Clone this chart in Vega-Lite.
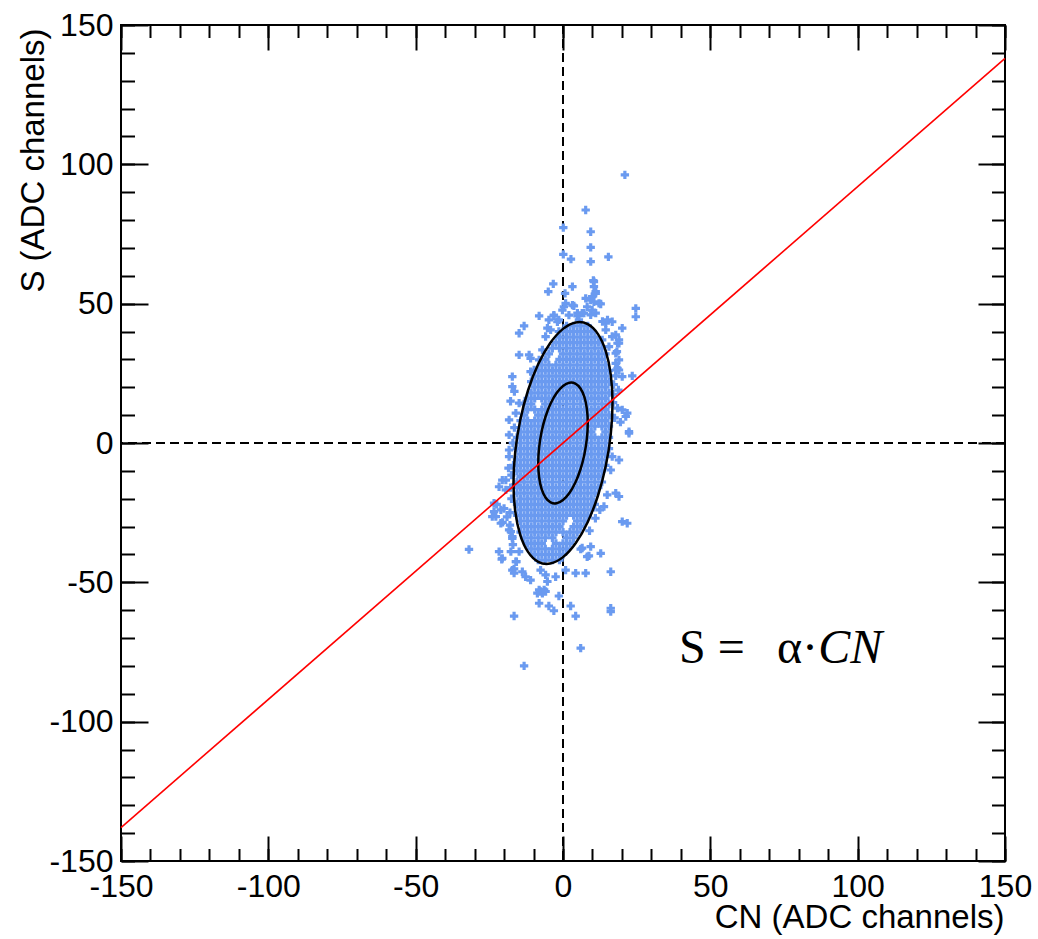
{
  "$schema": "https://vega.github.io/schema/vega-lite/v6.json",
  "width": 884,
  "height": 836,
  "autosize": {"type": "none"},
  "padding": {"left": 121, "top": 25, "right": 33, "bottom": 78},
  "background": "white",
  "config": {"view": {"stroke": "black", "strokeWidth": 2}, "font": "Liberation Sans"},
  "resolve": {"axis": {"x": "independent", "y": "independent"}},
  "datasets": {
    "scatter": [
      {"cn":1.2,"s":42},{"cn":3.6,"s":42},{"cn":6.0,"s":42},{"cn":8.4,"s":42},
      {"cn":0,"s":40},{"cn":2.4,"s":40},{"cn":4.8,"s":40},{"cn":7.2,"s":40},{"cn":9.6,"s":40},
      {"cn":-1.2,"s":38},{"cn":1.2,"s":38},{"cn":3.6,"s":38},{"cn":6.0,"s":38},{"cn":8.4,"s":38},{"cn":10.8,"s":38},
      {"cn":-2.4,"s":36},{"cn":0,"s":36},{"cn":2.4,"s":36},{"cn":4.8,"s":36},{"cn":7.2,"s":36},{"cn":9.6,"s":36},{"cn":12.0,"s":36},
      {"cn":-3.6,"s":34},{"cn":-1.2,"s":34},{"cn":1.2,"s":34},{"cn":3.6,"s":34},{"cn":6.0,"s":34},{"cn":8.4,"s":34},{"cn":10.8,"s":34},{"cn":13.2,"s":34},
      {"cn":-4.8,"s":32},{"cn":0,"s":32},{"cn":2.4,"s":32},{"cn":4.8,"s":32},{"cn":7.2,"s":32},{"cn":9.6,"s":32},{"cn":12.0,"s":32},{"cn":14.4,"s":32},
      {"cn":-6.0,"s":30},{"cn":-1.2,"s":30},{"cn":1.2,"s":30},{"cn":3.6,"s":30},{"cn":6.0,"s":30},{"cn":8.4,"s":30},{"cn":10.8,"s":30},{"cn":13.2,"s":30},
      {"cn":-7.2,"s":28},{"cn":-4.8,"s":28},{"cn":-2.4,"s":28},{"cn":0,"s":28},{"cn":2.4,"s":28},{"cn":4.8,"s":28},{"cn":7.2,"s":28},{"cn":9.6,"s":28},{"cn":12.0,"s":28},{"cn":14.4,"s":28},
      {"cn":-8.4,"s":26},{"cn":-6.0,"s":26},{"cn":-3.6,"s":26},{"cn":-1.2,"s":26},{"cn":1.2,"s":26},{"cn":3.6,"s":26},{"cn":6.0,"s":26},{"cn":8.4,"s":26},{"cn":10.8,"s":26},{"cn":13.2,"s":26},{"cn":15.6,"s":26},
      {"cn":-9.6,"s":24},{"cn":-7.2,"s":24},{"cn":-4.8,"s":24},{"cn":-2.4,"s":24},{"cn":0,"s":24},{"cn":2.4,"s":24},{"cn":4.8,"s":24},{"cn":7.2,"s":24},{"cn":9.6,"s":24},{"cn":12.0,"s":24},{"cn":14.4,"s":24},
      {"cn":-10.8,"s":22},{"cn":-8.4,"s":22},{"cn":-6.0,"s":22},{"cn":-3.6,"s":22},{"cn":-1.2,"s":22},{"cn":1.2,"s":22},{"cn":3.6,"s":22},{"cn":6.0,"s":22},{"cn":8.4,"s":22},{"cn":10.8,"s":22},{"cn":13.2,"s":22},{"cn":15.6,"s":22},
      {"cn":-9.6,"s":20},{"cn":-7.2,"s":20},{"cn":-4.8,"s":20},{"cn":-2.4,"s":20},{"cn":0,"s":20},{"cn":2.4,"s":20},{"cn":4.8,"s":20},{"cn":7.2,"s":20},{"cn":9.6,"s":20},{"cn":12.0,"s":20},{"cn":14.4,"s":20},
      {"cn":-10.8,"s":18},{"cn":-8.4,"s":18},{"cn":-6.0,"s":18},{"cn":-3.6,"s":18},{"cn":-1.2,"s":18},{"cn":1.2,"s":18},{"cn":3.6,"s":18},{"cn":6.0,"s":18},{"cn":8.4,"s":18},{"cn":10.8,"s":18},{"cn":13.2,"s":18},{"cn":15.6,"s":18},
      {"cn":-12.0,"s":16},{"cn":-9.6,"s":16},{"cn":-7.2,"s":16},{"cn":-4.8,"s":16},{"cn":-2.4,"s":16},{"cn":0,"s":16},{"cn":2.4,"s":16},{"cn":4.8,"s":16},{"cn":7.2,"s":16},{"cn":9.6,"s":16},{"cn":12.0,"s":16},{"cn":14.4,"s":16},
      {"cn":-13.2,"s":14},{"cn":-10.8,"s":14},{"cn":-6.0,"s":14},{"cn":-3.6,"s":14},{"cn":-1.2,"s":14},{"cn":1.2,"s":14},{"cn":3.6,"s":14},{"cn":6.0,"s":14},{"cn":8.4,"s":14},{"cn":10.8,"s":14},{"cn":13.2,"s":14},{"cn":15.6,"s":14},
      {"cn":-12.0,"s":12},{"cn":-9.6,"s":12},{"cn":-7.2,"s":12},{"cn":-4.8,"s":12},{"cn":-2.4,"s":12},{"cn":0,"s":12},{"cn":2.4,"s":12},{"cn":4.8,"s":12},{"cn":7.2,"s":12},{"cn":9.6,"s":12},{"cn":12.0,"s":12},{"cn":14.4,"s":12},
      {"cn":-13.2,"s":10},{"cn":-8.4,"s":10},{"cn":-6.0,"s":10},{"cn":-3.6,"s":10},{"cn":-1.2,"s":10},{"cn":1.2,"s":10},{"cn":3.6,"s":10},{"cn":6.0,"s":10},{"cn":8.4,"s":10},{"cn":10.8,"s":10},{"cn":13.2,"s":10},{"cn":15.6,"s":10},
      {"cn":-14.4,"s":8},{"cn":-12.0,"s":8},{"cn":-9.6,"s":8},{"cn":-7.2,"s":8},{"cn":-4.8,"s":8},{"cn":-2.4,"s":8},{"cn":0,"s":8},{"cn":2.4,"s":8},{"cn":4.8,"s":8},{"cn":7.2,"s":8},{"cn":9.6,"s":8},{"cn":12.0,"s":8},{"cn":14.4,"s":8},
      {"cn":-13.2,"s":6},{"cn":-10.8,"s":6},{"cn":-8.4,"s":6},{"cn":-6.0,"s":6},{"cn":-3.6,"s":6},{"cn":-1.2,"s":6},{"cn":1.2,"s":6},{"cn":3.6,"s":6},{"cn":6.0,"s":6},{"cn":8.4,"s":6},{"cn":10.8,"s":6},{"cn":13.2,"s":6},{"cn":15.6,"s":6},
      {"cn":-14.4,"s":4},{"cn":-12.0,"s":4},{"cn":-9.6,"s":4},{"cn":-7.2,"s":4},{"cn":-4.8,"s":4},{"cn":-2.4,"s":4},{"cn":0,"s":4},{"cn":2.4,"s":4},{"cn":4.8,"s":4},{"cn":7.2,"s":4},{"cn":9.6,"s":4},{"cn":14.4,"s":4},
      {"cn":-15.6,"s":2},{"cn":-13.2,"s":2},{"cn":-10.8,"s":2},{"cn":-8.4,"s":2},{"cn":-6.0,"s":2},{"cn":-3.6,"s":2},{"cn":-1.2,"s":2},{"cn":1.2,"s":2},{"cn":3.6,"s":2},{"cn":6.0,"s":2},{"cn":8.4,"s":2},{"cn":10.8,"s":2},{"cn":13.2,"s":2},{"cn":15.6,"s":2},
      {"cn":-14.4,"s":0},{"cn":-12.0,"s":0},{"cn":-9.6,"s":0},{"cn":-7.2,"s":0},{"cn":-4.8,"s":0},{"cn":-2.4,"s":0},{"cn":0,"s":0},{"cn":2.4,"s":0},{"cn":4.8,"s":0},{"cn":7.2,"s":0},{"cn":9.6,"s":0},{"cn":12.0,"s":0},{"cn":14.4,"s":0},
      {"cn":-15.6,"s":-2},{"cn":-13.2,"s":-2},{"cn":-10.8,"s":-2},{"cn":-8.4,"s":-2},{"cn":-6.0,"s":-2},{"cn":-3.6,"s":-2},{"cn":-1.2,"s":-2},{"cn":1.2,"s":-2},{"cn":3.6,"s":-2},{"cn":6.0,"s":-2},{"cn":8.4,"s":-2},{"cn":10.8,"s":-2},{"cn":13.2,"s":-2},{"cn":15.6,"s":-2},
      {"cn":-14.4,"s":-4},{"cn":-12.0,"s":-4},{"cn":-9.6,"s":-4},{"cn":-7.2,"s":-4},{"cn":-4.8,"s":-4},{"cn":-2.4,"s":-4},{"cn":0,"s":-4},{"cn":2.4,"s":-4},{"cn":4.8,"s":-4},{"cn":7.2,"s":-4},{"cn":9.6,"s":-4},{"cn":12.0,"s":-4},{"cn":14.4,"s":-4},
      {"cn":-15.6,"s":-6},{"cn":-13.2,"s":-6},{"cn":-10.8,"s":-6},{"cn":-8.4,"s":-6},{"cn":-6.0,"s":-6},{"cn":-3.6,"s":-6},{"cn":-1.2,"s":-6},{"cn":1.2,"s":-6},{"cn":3.6,"s":-6},{"cn":6.0,"s":-6},{"cn":8.4,"s":-6},{"cn":10.8,"s":-6},{"cn":13.2,"s":-6},
      {"cn":-14.4,"s":-8},{"cn":-12.0,"s":-8},{"cn":-9.6,"s":-8},{"cn":-7.2,"s":-8},{"cn":-4.8,"s":-8},{"cn":-2.4,"s":-8},{"cn":0,"s":-8},{"cn":2.4,"s":-8},{"cn":4.8,"s":-8},{"cn":7.2,"s":-8},{"cn":9.6,"s":-8},{"cn":12.0,"s":-8},{"cn":14.4,"s":-8},
      {"cn":-15.6,"s":-10},{"cn":-13.2,"s":-10},{"cn":-10.8,"s":-10},{"cn":-8.4,"s":-10},{"cn":-6.0,"s":-10},{"cn":-3.6,"s":-10},{"cn":-1.2,"s":-10},{"cn":1.2,"s":-10},{"cn":3.6,"s":-10},{"cn":6.0,"s":-10},{"cn":8.4,"s":-10},{"cn":10.8,"s":-10},{"cn":13.2,"s":-10},
      {"cn":-14.4,"s":-12},{"cn":-12.0,"s":-12},{"cn":-9.6,"s":-12},{"cn":-7.2,"s":-12},{"cn":-4.8,"s":-12},{"cn":-2.4,"s":-12},{"cn":0,"s":-12},{"cn":2.4,"s":-12},{"cn":4.8,"s":-12},{"cn":7.2,"s":-12},{"cn":9.6,"s":-12},{"cn":12.0,"s":-12},
      {"cn":-15.6,"s":-14},{"cn":-13.2,"s":-14},{"cn":-10.8,"s":-14},{"cn":-8.4,"s":-14},{"cn":-6.0,"s":-14},{"cn":-3.6,"s":-14},{"cn":-1.2,"s":-14},{"cn":1.2,"s":-14},{"cn":3.6,"s":-14},{"cn":6.0,"s":-14},{"cn":8.4,"s":-14},{"cn":10.8,"s":-14},{"cn":13.2,"s":-14},
      {"cn":-14.4,"s":-16},{"cn":-12.0,"s":-16},{"cn":-9.6,"s":-16},{"cn":-7.2,"s":-16},{"cn":-4.8,"s":-16},{"cn":-2.4,"s":-16},{"cn":0,"s":-16},{"cn":2.4,"s":-16},{"cn":4.8,"s":-16},{"cn":7.2,"s":-16},{"cn":9.6,"s":-16},{"cn":12.0,"s":-16},
      {"cn":-15.6,"s":-18},{"cn":-13.2,"s":-18},{"cn":-10.8,"s":-18},{"cn":-8.4,"s":-18},{"cn":-6.0,"s":-18},{"cn":-3.6,"s":-18},{"cn":-1.2,"s":-18},{"cn":1.2,"s":-18},{"cn":3.6,"s":-18},{"cn":6.0,"s":-18},{"cn":8.4,"s":-18},{"cn":10.8,"s":-18},
      {"cn":-14.4,"s":-20},{"cn":-12.0,"s":-20},{"cn":-9.6,"s":-20},{"cn":-7.2,"s":-20},{"cn":-4.8,"s":-20},{"cn":-2.4,"s":-20},{"cn":0,"s":-20},{"cn":2.4,"s":-20},{"cn":4.8,"s":-20},{"cn":7.2,"s":-20},{"cn":9.6,"s":-20},
      {"cn":-15.6,"s":-22},{"cn":-13.2,"s":-22},{"cn":-10.8,"s":-22},{"cn":-8.4,"s":-22},{"cn":-6.0,"s":-22},{"cn":-3.6,"s":-22},{"cn":-1.2,"s":-22},{"cn":1.2,"s":-22},{"cn":3.6,"s":-22},{"cn":6.0,"s":-22},{"cn":8.4,"s":-22},{"cn":10.8,"s":-22},
      {"cn":-14.4,"s":-24},{"cn":-12.0,"s":-24},{"cn":-9.6,"s":-24},{"cn":-7.2,"s":-24},{"cn":-4.8,"s":-24},{"cn":-2.4,"s":-24},{"cn":0,"s":-24},{"cn":2.4,"s":-24},{"cn":4.8,"s":-24},{"cn":7.2,"s":-24},{"cn":9.6,"s":-24},
      {"cn":-15.6,"s":-26},{"cn":-13.2,"s":-26},{"cn":-10.8,"s":-26},{"cn":-8.4,"s":-26},{"cn":-6.0,"s":-26},{"cn":-3.6,"s":-26},{"cn":-1.2,"s":-26},{"cn":1.2,"s":-26},{"cn":3.6,"s":-26},{"cn":6.0,"s":-26},{"cn":8.4,"s":-26},
      {"cn":-14.4,"s":-28},{"cn":-12.0,"s":-28},{"cn":-9.6,"s":-28},{"cn":-7.2,"s":-28},{"cn":-4.8,"s":-28},{"cn":-2.4,"s":-28},{"cn":0,"s":-28},{"cn":4.8,"s":-28},{"cn":7.2,"s":-28},
      {"cn":-13.2,"s":-30},{"cn":-10.8,"s":-30},{"cn":-8.4,"s":-30},{"cn":-6.0,"s":-30},{"cn":-3.6,"s":-30},{"cn":-1.2,"s":-30},{"cn":3.6,"s":-30},{"cn":6.0,"s":-30},
      {"cn":-14.4,"s":-32},{"cn":-12.0,"s":-32},{"cn":-9.6,"s":-32},{"cn":-7.2,"s":-32},{"cn":-4.8,"s":-32},{"cn":-2.4,"s":-32},{"cn":0,"s":-32},{"cn":2.4,"s":-32},{"cn":4.8,"s":-32},
      {"cn":-13.2,"s":-34},{"cn":-10.8,"s":-34},{"cn":-8.4,"s":-34},{"cn":-6.0,"s":-34},{"cn":-3.6,"s":-34},{"cn":1.2,"s":-34},{"cn":3.6,"s":-34},
      {"cn":-12.0,"s":-36},{"cn":-9.6,"s":-36},{"cn":-7.2,"s":-36},{"cn":-2.4,"s":-36},{"cn":0,"s":-36},{"cn":2.4,"s":-36},
      {"cn":-10.8,"s":-38},{"cn":-8.4,"s":-38},{"cn":-6.0,"s":-38},{"cn":-3.6,"s":-38},{"cn":-1.2,"s":-38},{"cn":1.2,"s":-38},
      {"cn":-9.6,"s":-40},{"cn":-7.2,"s":-40},{"cn":-4.8,"s":-40},{"cn":-2.4,"s":-40},{"cn":0,"s":-40},
      {"cn":-8.4,"s":-42},{"cn":-6.0,"s":-42},{"cn":-3.6,"s":-42},{"cn":-1.2,"s":-42},
      {"cn":21.0,"s":96.2},{"cn":7.7,"s":83.6},{"cn":0.1,"s":77.3},{"cn":9.4,"s":75.8},{"cn":9.4,"s":70.2},{"cn":0.1,"s":67.7},{"cn":2.7,"s":66.0},{"cn":9.4,"s":65.1},{"cn":15.4,"s":66.8},
      {"cn":10.3,"s":58.3},{"cn":-3.3,"s":57.1},{"cn":-5.0,"s":54.3},{"cn":0.7,"s":53.7},{"cn":3.2,"s":56.1},{"cn":10.5,"s":56.1},{"cn":11.1,"s":54.3},{"cn":9.9,"s":52.5},{"cn":7.7,"s":51.9},{"cn":9.4,"s":51.3},{"cn":12.8,"s":49.9},
      {"cn":24.7,"s":48.3},{"cn":24.7,"s":45.3},{"cn":0.3,"s":48.9},{"cn":3.7,"s":49.2},{"cn":-8.1,"s":45.6},{"cn":-3.1,"s":45.6},{"cn":-1.4,"s":44.2},{"cn":4.9,"s":45.6},{"cn":6.5,"s":46.6},{"cn":9.4,"s":46.0},
      {"cn":-13.2,"s":42.0},{"cn":-14.9,"s":39.4},{"cn":-5.3,"s":41.2},{"cn":20.1,"s":41.2},{"cn":14.5,"s":43.0},{"cn":16.7,"s":43.5},{"cn":-14.9,"s":31.6},{"cn":-11.5,"s":31.6},{"cn":-11.0,"s":30.4},{"cn":17.9,"s":38.8},{"cn":19.0,"s":35.8},
      {"cn":10.5,"s":57.9},{"cn":11.1,"s":53.7},{"cn":10.5,"s":50.7},{"cn":12.2,"s":50.1},{"cn":8.2,"s":48.9},{"cn":9.9,"s":47.7},{"cn":7.1,"s":46.6},{"cn":11.1,"s":46.6},{"cn":13.4,"s":43.6},{"cn":15.1,"s":44.2},
      {"cn":0.9,"s":50.1},{"cn":3.2,"s":49.5},{"cn":-0.2,"s":47.7},{"cn":2.0,"s":45.9},{"cn":4.9,"s":46.6},{"cn":5.4,"s":44.2},{"cn":-4.8,"s":44.2},{"cn":-3.1,"s":45.9},{"cn":-1.9,"s":43.5},{"cn":-4.2,"s":40.6},{"cn":-1.4,"s":40.0},
      {"cn":14.5,"s":40.6},{"cn":16.7,"s":38.2},{"cn":19.0,"s":37.0},{"cn":13.3,"s":37.0},{"cn":15.6,"s":34.6},{"cn":17.9,"s":32.2},{"cn":19.0,"s":29.8},{"cn":17.9,"s":26.2},
      {"cn":-5.9,"s":38.2},{"cn":-7.0,"s":33.4},{"cn":-8.1,"s":29.8},{"cn":-9.8,"s":26.2},{"cn":-11.0,"s":25.6},{"cn":18.5,"s":35.8},{"cn":18.3,"s":32.8},{"cn":18.5,"s":26.8},{"cn":17.9,"s":24.1},{"cn":23.5,"s":24.1},
      {"cn":-17.2,"s":20.2},{"cn":-18.3,"s":8.3},{"cn":-18.3,"s":2.9},{"cn":-18.3,"s":-4.9},{"cn":-19.4,"s":-13.3},{"cn":-14.9,"s":14.3},{"cn":-16.0,"s":10.7},{"cn":-17.2,"s":23.8},{"cn":-18.3,"s":-2.5},
      {"cn":-16.5,"s":18.5},{"cn":-17.8,"s":15.0},{"cn":-16.5,"s":5.5},{"cn":-17.0,"s":0.0},{"cn":-16.8,"s":-8.0},{"cn":-17.5,"s":-11.5},{"cn":-16.2,"s":-15.0},
      {"cn":20.1,"s":11.9},{"cn":21.3,"s":9.5},{"cn":22.4,"s":3.5},{"cn":16.2,"s":-9.7},{"cn":16.7,"s":-4.9},{"cn":21.8,"s":10.7},{"cn":22.4,"s":4.1},{"cn":19.0,"s":-6.1},{"cn":17.9,"s":28.6},{"cn":19.0,"s":26.2},{"cn":20.1,"s":23.8},
      {"cn":17.0,"s":14.5},{"cn":18.5,"s":12.5},{"cn":17.5,"s":9.0},{"cn":19.5,"s":7.5},{"cn":17.2,"s":21.0},{"cn":18.8,"s":19.0},{"cn":17.0,"s":17.5},
      {"cn":17.9,"s":-18.0},{"cn":19.0,"s":-19.2},{"cn":15.0,"s":-18.6},{"cn":13.9,"s":-22.8},{"cn":9.0,"s":-31.5},{"cn":11.0,"s":-27.0},{"cn":12.5,"s":-24.0},{"cn":10.5,"s":-22.0},
      {"cn":-31.9,"s":-38.2},{"cn":-21.7,"s":-39.0},{"cn":-20.6,"s":-41.4},{"cn":-17.7,"s":-39.0},{"cn":-14.9,"s":-39.0},{"cn":-16.0,"s":-42.6},{"cn":-17.2,"s":-45.6},{"cn":-13.8,"s":-46.2},{"cn":-12.7,"s":-48.0},{"cn":-11.0,"s":-49.2},
      {"cn":-7.6,"s":-45.6},{"cn":-5.9,"s":-47.3},{"cn":-5.3,"s":-49.7},{"cn":-2.5,"s":-48.0},{"cn":-8.1,"s":-52.7},{"cn":-7.0,"s":-53.9},{"cn":-6.4,"s":-52.7},{"cn":-1.4,"s":-54.9},{"cn":0.9,"s":-45.6},{"cn":4.3,"s":-46.7},{"cn":7.7,"s":-46.7},
      {"cn":6.5,"s":-37.7},{"cn":9.4,"s":-37.2},{"cn":8.2,"s":-40.8},{"cn":12.8,"s":-39.6},{"cn":16.2,"s":-46.2},{"cn":20.1,"s":-28.2},{"cn":21.8,"s":-28.8},{"cn":-24.0,"s":-26.4},{"cn":-23.4,"s":-24.6},{"cn":-21.1,"s":-28.8},{"cn":-17.7,"s":-31.8},{"cn":-17.2,"s":-34.2},
      {"cn":-16.6,"s":-62.1},{"cn":-13.2,"s":-80.0},{"cn":6.0,"s":-73.6},{"cn":16.2,"s":-60.5},{"cn":16.2,"s":-59.3},{"cn":4.3,"s":-62.1},{"cn":2.6,"s":-58.5},{"cn":-3.1,"s":-60.2},{"cn":-4.8,"s":-58.5},{"cn":-8.1,"s":-57.5},
      {"cn":-7.6,"s":-53.3},{"cn":-5.9,"s":-53.3},{"cn":-8.7,"s":-53.9},{"cn":6.0,"s":-38.1},{"cn":8.8,"s":-40.5},{"cn":-20.8,"s":-41.7},{"cn":-15.8,"s":-42.6},{"cn":-16.6,"s":-45.2},{"cn":-16.6,"s":-46.7},
      {"cn":-20.6,"s":-13.3},{"cn":-21.7,"s":-15.7},{"cn":-19.4,"s":-16.8},{"cn":-23.4,"s":-21.6},{"cn":-21.1,"s":-24.0},{"cn":-22.8,"s":-26.4},{"cn":-18.3,"s":-31.2},{"cn":-17.2,"s":-33.6},
      {"cn":-22.5,"s":-22.0},{"cn":-20.0,"s":-23.5},{"cn":-18.0,"s":-25.0},{"cn":-20.5,"s":-28.5},{"cn":-18.0,"s":-29.5},{"cn":-19.0,"s":-26.5},{"cn":-17.5,"s":-20.0},{"cn":-17.8,"s":-16.0},{"cn":-18.5,"s":-9.0},{"cn":-17.0,"s":-36.5}
    ],
    "contour": [
      {"level":"1","t":0,"cn":8.40,"s":7.16},{"level":"1","t":15,"cn":8.11,"s":12.22},{"level":"1","t":30,"cn":7.27,"s":16.44},{"level":"1","t":45,"cn":5.94,"s":19.54},
      {"level":"1","t":60,"cn":4.20,"s":21.32},{"level":"1","t":75,"cn":2.17,"s":21.63},{"level":"1","t":90,"cn":0.0,"s":20.48},{"level":"1","t":105,"cn":-2.17,"s":17.93},
      {"level":"1","t":120,"cn":-4.20,"s":14.16},{"level":"1","t":135,"cn":-5.94,"s":9.42},{"level":"1","t":150,"cn":-7.27,"s":4.04},{"level":"1","t":165,"cn":-8.11,"s":-1.62},
      {"level":"1","t":180,"cn":-8.40,"s":-7.16},{"level":"1","t":195,"cn":-8.11,"s":-12.22},{"level":"1","t":210,"cn":-7.27,"s":-16.44},{"level":"1","t":225,"cn":-5.94,"s":-19.54},
      {"level":"1","t":240,"cn":-4.20,"s":-21.32},{"level":"1","t":255,"cn":-2.17,"s":-21.63},{"level":"1","t":270,"cn":0.0,"s":-20.48},{"level":"1","t":285,"cn":2.17,"s":-17.93},
      {"level":"1","t":300,"cn":4.20,"s":-14.16},{"level":"1","t":315,"cn":5.94,"s":-9.42},{"level":"1","t":330,"cn":7.27,"s":-4.04},{"level":"1","t":345,"cn":8.11,"s":1.62},
      {"level":"2","t":0,"cn":16.80,"s":14.32},{"level":"2","t":15,"cn":16.22,"s":24.44},{"level":"2","t":30,"cn":14.54,"s":32.88},{"level":"2","t":45,"cn":11.88,"s":39.08},
      {"level":"2","t":60,"cn":8.40,"s":42.64},{"level":"2","t":75,"cn":4.34,"s":43.26},{"level":"2","t":90,"cn":0.0,"s":40.96},{"level":"2","t":105,"cn":-4.34,"s":35.86},
      {"level":"2","t":120,"cn":-8.40,"s":28.32},{"level":"2","t":135,"cn":-11.88,"s":18.84},{"level":"2","t":150,"cn":-14.54,"s":8.08},{"level":"2","t":165,"cn":-16.22,"s":-3.24},
      {"level":"2","t":180,"cn":-16.80,"s":-14.32},{"level":"2","t":195,"cn":-16.22,"s":-24.44},{"level":"2","t":210,"cn":-14.54,"s":-32.88},{"level":"2","t":225,"cn":-11.88,"s":-39.08},
      {"level":"2","t":240,"cn":-8.40,"s":-42.64},{"level":"2","t":255,"cn":-4.34,"s":-43.26},{"level":"2","t":270,"cn":0.0,"s":-40.96},{"level":"2","t":285,"cn":4.34,"s":-35.86},
      {"level":"2","t":300,"cn":8.40,"s":-28.32},{"level":"2","t":315,"cn":11.88,"s":-18.84},{"level":"2","t":330,"cn":14.54,"s":-8.08},{"level":"2","t":345,"cn":16.22,"s":3.24}
    ]
  },
  "layer": [
    {
      "data": {"values": [{"cn": 0}]},
      "mark": {"type": "rule", "color": "black", "strokeWidth": 2, "strokeDash": [9, 5]},
      "encoding": {"x": {"field": "cn", "type": "quantitative", "scale": {"domain": [-150, 150], "nice": false, "zero": false},
        "axis": {"orient": "bottom", "values": [-150,-140,-130,-120,-110,-100,-90,-80,-70,-60,-50,-40,-30,-20,-10,0,10,20,30,40,50,60,70,80,90,100,110,120,130,140,150],
          "labels": false, "title": null, "tickSize": -12.5, "tickWidth": 2, "tickColor": "black", "domain": false, "grid": false}}}
    },
    {
      "data": {"values": [{"s": 0}]},
      "mark": {"type": "rule", "color": "black", "strokeWidth": 2, "strokeDash": [9, 5]},
      "encoding": {"y": {"field": "s", "type": "quantitative", "scale": {"domain": [-150, 150], "nice": false, "zero": false},
        "axis": {"orient": "left", "values": [-150,-140,-130,-120,-110,-100,-90,-80,-70,-60,-50,-40,-30,-20,-10,0,10,20,30,40,50,60,70,80,90,100,110,120,130,140,150],
          "labels": false, "title": null, "tickSize": -13.5, "tickWidth": 2, "tickColor": "black", "domain": false, "grid": false}}}
    },
    {
      "data": {"name": "scatter"},
      "mark": {"type": "point", "shape": "M-1,-0.38H-0.38V-1H0.38V-0.38H1V0.38H0.38V1H-0.38V0.38H-1Z", "filled": true, "size": 70, "color": "#6a9af0", "opacity": 1, "strokeWidth": 0},
      "encoding": {
        "x": {"field": "cn", "type": "quantitative", "scale": {"domain": [-150, 150], "nice": false, "zero": false},
          "axis": {"orient": "bottom", "values": [-150,-100,-50,0,50,100,150],
            "labelExpr": "'' + datum.value", "tickSize": -25, "tickWidth": 2, "tickColor": "black", "domain": false, "grid": false,
            "labelFont": "Liberation Sans", "labelFontSize": 32, "labelColor": "black", "labelPadding": 35, "labelFlush": false, "labelOverlap": false,
            "title": "CN (ADC channels)", "titleFont": "Liberation Sans", "titleFontSize": 33, "titleFontWeight": "normal", "titleColor": "black",
            "titleAlign": "right", "titleBaseline": "alphabetic", "titleX": 883, "titleY": 66}},
        "y": {"field": "s", "type": "quantitative", "scale": {"domain": [-150, 150], "nice": false, "zero": false},
          "axis": {"orient": "left", "values": [-150,-100,-50,0,50,100,150],
            "labelExpr": "'' + datum.value", "tickSize": -27, "tickWidth": 2, "tickColor": "black", "domain": false, "grid": false,
            "labelFont": "Liberation Sans", "labelFontSize": 32, "labelColor": "black", "labelPadding": 35, "labelFlush": false, "labelOverlap": false,
            "title": "S (ADC channels)", "titleFont": "Liberation Sans", "titleFontSize": 33, "titleFontWeight": "normal", "titleColor": "black",
            "titleAngle": 270, "titleAlign": "right", "titleBaseline": "alphabetic", "titleX": -78, "titleY": 3}}
      }
    },
    {
      "data": {"name": "contour"},
      "mark": {"type": "line", "interpolate": "cardinal-closed", "color": "black", "strokeWidth": 2.5},
      "encoding": {
        "x": {"field": "cn", "type": "quantitative", "scale": {"domain": [-150, 150], "nice": false, "zero": false},
          "axis": {"orient": "top", "values": [-150,-140,-130,-120,-110,-100,-90,-80,-70,-60,-50,-40,-30,-20,-10,0,10,20,30,40,50,60,70,80,90,100,110,120,130,140,150],
            "labels": false, "title": null, "tickSize": -12.5, "tickWidth": 2, "tickColor": "black", "domain": false, "grid": false}},
        "y": {"field": "s", "type": "quantitative", "scale": {"domain": [-150, 150], "nice": false, "zero": false},
          "axis": {"orient": "right", "values": [-150,-140,-130,-120,-110,-100,-90,-80,-70,-60,-50,-40,-30,-20,-10,0,10,20,30,40,50,60,70,80,90,100,110,120,130,140,150],
            "labels": false, "title": null, "tickSize": -13.5, "tickWidth": 2, "tickColor": "black", "domain": false, "grid": false}},
        "detail": {"field": "level", "type": "nominal"},
        "order": {"field": "t", "type": "quantitative"}
      }
    },
    {
      "data": {"values": [{"cn": -150, "s": -138}, {"cn": 150, "s": 138}]},
      "mark": {"type": "line", "color": "#ff0000", "strokeWidth": 1.6},
      "encoding": {
        "x": {"field": "cn", "type": "quantitative", "scale": {"domain": [-150, 150], "nice": false, "zero": false},
          "axis": {"orient": "top", "values": [-150,-100,-50,0,50,100,150],
            "labels": false, "title": null, "tickSize": -25, "tickWidth": 2, "tickColor": "black", "domain": false, "grid": false}},
        "y": {"field": "s", "type": "quantitative", "scale": {"domain": [-150, 150], "nice": false, "zero": false},
          "axis": {"orient": "right", "values": [-150,-100,-50,0,50,100,150],
            "labels": false, "title": null, "tickSize": -27, "tickWidth": 2, "tickColor": "black", "domain": false, "grid": false}}
      }
    },
    {
      "data": {"values": [{"cn": 39.4, "s": -79, "label": "S ="}, {"cn": 72.6, "s": -79, "label": "α·"}]},
      "mark": {"type": "text", "align": "left", "baseline": "alphabetic", "font": "Liberation Serif", "fontSize": 48, "color": "black"},
      "encoding": {
        "x": {"field": "cn", "type": "quantitative", "axis": null},
        "y": {"field": "s", "type": "quantitative", "axis": null},
        "text": {"field": "label"}
      }
    },
    {
      "data": {"values": [{"cn": 86.6, "s": -79, "label": "CN"}]},
      "mark": {"type": "text", "align": "left", "baseline": "alphabetic", "font": "Liberation Serif", "fontStyle": "italic", "fontSize": 48, "color": "black"},
      "encoding": {
        "x": {"field": "cn", "type": "quantitative", "axis": null},
        "y": {"field": "s", "type": "quantitative", "axis": null},
        "text": {"field": "label"}
      }
    }
  ]
}
